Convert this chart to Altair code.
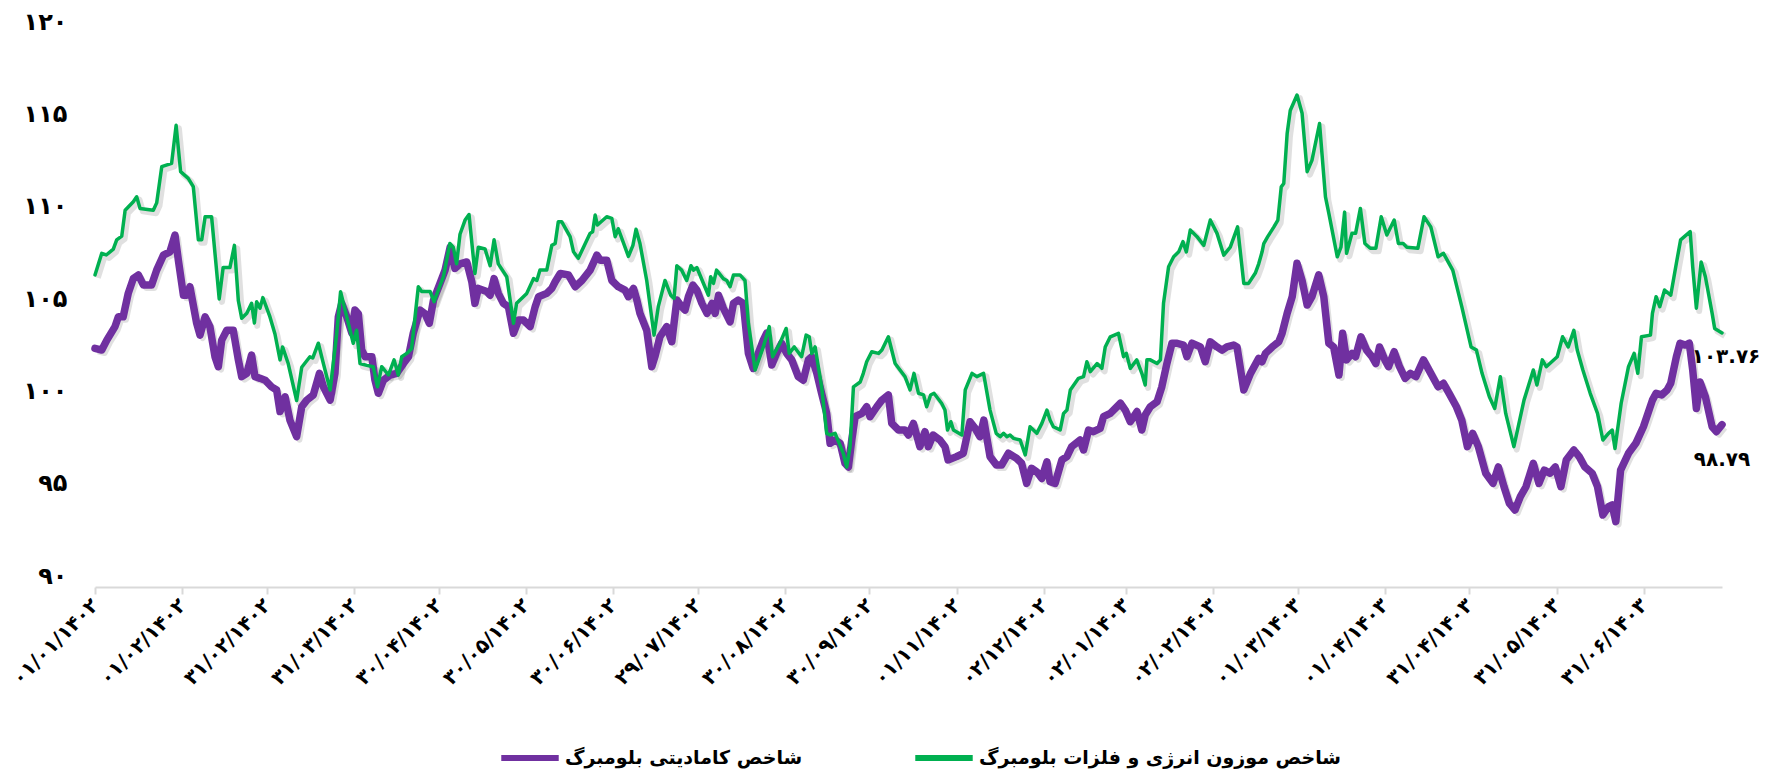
import json
import altair as alt
import pandas as pd

# ---------------- data ----------------
START = pd.Timestamp("2023-03-21")  # 01/01/1402

series_names = ["شاخص کامادیتی بلومبرگ", "شاخص موزون انرژی و فلزات بلومبرگ"]
series_colors = ["#7030A0", "#00B050"]
end_labels = ["۹۸.۷۹", "۱۰۳.۷۶"]

tick_dates = ["2023-03-21", "2023-04-21", "2023-05-21", "2023-06-21", "2023-07-21",
              "2023-08-21", "2023-09-21", "2023-10-21", "2023-11-21", "2023-12-21",
              "2024-01-21", "2024-02-21", "2024-03-21", "2024-04-21", "2024-05-21",
              "2024-06-21", "2024-07-21", "2024-08-21", "2024-09-21"]
tick_labels = ["۰۱/۰۱/۱۴۰۲", "۰۱/۰۲/۱۴۰۲", "۳۱/۰۲/۱۴۰۲", "۳۱/۰۳/۱۴۰۲", "۳۰/۰۴/۱۴۰۲",
               "۳۰/۰۵/۱۴۰۲", "۳۰/۰۶/۱۴۰۲", "۲۹/۰۷/۱۴۰۲", "۳۰/۰۸/۱۴۰۲", "۳۰/۰۹/۱۴۰۲",
               "۰۱/۱۱/۱۴۰۲", "۰۲/۱۲/۱۴۰۲", "۰۲/۰۱/۱۴۰۳", "۰۲/۰۲/۱۴۰۳", "۰۱/۰۳/۱۴۰۳",
               "۰۱/۰۴/۱۴۰۳", "۳۱/۰۴/۱۴۰۳", "۳۱/۰۵/۱۴۰۳", "۳۱/۰۶/۱۴۰۳"]
y_ticks = [90, 95, 100, 105, 110, 115, 120]
y_tick_labels = ["۹۰", "۹۵", "۱۰۰", "۱۰۵", "۱۱۰", "۱۱۵", "۱۲۰"]

# days since 01/01/1402 and index values, Bloomberg Commodity Index (purple)
commodity_days = [0, 2.4, 4.2, 7.1, 8.3, 10, 11.8, 13.6, 15.4, 17.2, 20.1, 21.9, 24.3, 26.6, 28.4, 29.6,
    31.4, 32.6, 33.7, 36.1, 37.3, 39.1, 40.8, 42.6, 43.8, 45, 46.8, 49.1, 50.9, 52.1, 53.9, 55.6,
    56.8, 58.6, 60.4, 62.7, 64.5, 65.7, 67.5, 69.2, 71.6, 73.4, 75.2, 77.5, 79.7, 81.1, 83.5, 85.2,
    86.4, 87.6, 89.4, 91.2, 92.3, 93.5, 94.7, 95.9, 98.3, 99.4, 100.6, 102.4, 104.8, 107.1, 109.5,
    111.3, 113, 115.4, 117.2, 118.7, 120.2, 122.5, 124.3, 126.1, 127.8, 129.6, 132, 133.8, 134.9,
    136.1, 139.1, 140.3, 141.7, 143.2, 145, 146.8, 148.6, 150.4, 152.1, 154.5, 156.3, 157.5, 160.4,
    162.2, 163.4, 165.2, 168.1, 170.5, 172.9, 175.8, 178.2, 179.4, 181.7, 183.5, 185.8, 188.2,
    189.4, 191.2, 192.4, 193.5, 195.9, 197.7, 198.8, 200.6, 203, 204.8, 206.6, 208.3, 209.5, 210.7,
    212.3, 213.7, 215.5, 217.3, 219.1, 220.2, 221.4, 223.1, 225.5, 226.7, 228.4, 230.2, 232, 233.7,
    235.5, 237.3, 238.5, 240.3, 242, 243.8, 245.6, 247.4, 249.7, 251.5, 253.3, 254.5, 256.3, 258,
    259.8, 261, 262.8, 264.6, 266.3, 267.5, 268.7, 269.9, 272.3, 274, 275.2, 277.6, 279.4, 281.7,
    282.9, 285.3, 287.6, 288.8, 290.6, 292.9, 294.7, 295.9, 297.6, 300, 301.8, 302.9, 305.9, 308.3,
    310.7, 312.5, 314.2, 315.6, 317.8, 320.1, 321.9, 324.3, 327.2, 329, 330.8, 332.5, 334.4, 336.2,
    338, 339.1, 340.9, 343.3, 345.1, 346.8, 349.8, 351, 352.8, 354.5, 356.9, 358.1, 360.5, 364.1,
    365.8, 367.6, 370, 371.7, 372.9, 374.7, 377.1, 378.8, 380.6, 382.4, 384.2, 386.5, 387.7, 389.5,
    392.5, 394.2, 396, 398.4, 400.2, 401.9, 404.3, 405.5, 407.9, 410.3, 413.2, 414.4, 415.6, 418,
    420.3, 421.5, 423.3, 425.1, 426.8, 428.6, 430.4, 432.1, 434.5, 436.3, 438.1, 439.8, 441.7, 443,
    444.4, 446.3, 447.6, 449.5, 451.5, 453.4, 454.8, 456.1, 458, 459.3, 461.3, 463.2, 465.2, 467.1,
    469, 471.7, 474.3, 476.9, 478.8, 480.8, 483.4, 485.3, 487.3, 489.2, 491.2, 493.8, 496.4, 498.3,
    500.3, 502.2, 504.2, 506.1, 508.1, 510.7, 512.7, 514.6, 516.6, 518.5, 520.5, 522.4, 525.1, 527,
    529, 531.6, 533.5, 535.4, 537.4, 538.7, 540, 541.7, 544.5, 547.1, 549.8, 553, 554.3, 556.3,
    558.2, 559.5, 561.5, 562.8, 564.7, 566.1, 567.3, 568.6, 569.9, 571.8, 574.2, 575.7, 577.7]
commodity_values = [102.92, 102.83, 103.37, 104.1, 104.63, 104.63, 105.9, 106.7, 106.9, 106.35, 106.35,
    107.16, 107.97, 108.15, 109.06, 107.7, 105.8, 105.8, 106.26, 104.28, 103.64, 104.63, 104.1,
    102.47, 101.93, 103.37, 103.9, 103.9, 102.3, 101.39, 101.57, 102.56, 101.39, 101.3, 101.2,
    100.84, 100.67, 99.5, 100.3, 99.04, 98.14, 99.76, 100.12, 100.4, 101.57, 100.84, 100.12, 101.57,
    104.63, 105.36, 104.63, 103.74, 105.0, 104.8, 102.83, 102.47, 102.47, 101.2, 100.49, 101.2,
    101.48, 101.57, 102.1, 102.47, 103.74, 105.0, 104.8, 104.28, 105.54, 106.44, 107.16, 108.4,
    107.25, 107.5, 107.6, 106.53, 105.36, 106.17, 106.0, 105.8, 106.7, 105.9, 105.36, 105.18,
    103.74, 104.46, 104.46, 104.1, 105.18, 105.72, 105.9, 106.17, 106.53, 106.98, 106.9, 106.26,
    106.6, 107.16, 107.97, 107.7, 107.7, 106.6, 106.26, 106.08, 105.72, 106.17, 105.54, 104.82,
    103.9, 101.93, 102.47, 103.55, 104.1, 103.28, 105.54, 105.18, 105.0, 105.72, 106.35, 106.08,
    105.36, 104.82, 105.36, 104.82, 105.8, 105.1, 104.36, 105.36, 105.54, 105.36, 102.65, 101.84,
    102.65, 103.37, 103.74, 102.02, 102.65, 103.2, 102.65, 102.3, 101.39, 101.2, 102.3, 102.47,
    101.57, 100.49, 99.4, 97.78, 97.96, 97.78, 96.7, 96.5, 97.96, 99.22, 99.4, 99.76, 99.22, 99.76,
    100.12, 100.4, 98.86, 98.5, 98.5, 98.23, 98.86, 97.6, 98.41, 97.6, 98.23, 97.96, 97.6, 96.88,
    97.06, 97.24, 98.95, 98.59, 98.14, 99.04, 97.06, 96.6, 96.6, 97.24, 96.97, 96.7, 95.61, 96.43,
    96.24, 95.88, 96.78, 95.7, 95.61, 96.88, 97.06, 97.6, 97.96, 97.42, 98.5, 98.41, 98.59, 99.22,
    99.4, 99.95, 99.58, 98.95, 99.5, 98.5, 99.31, 99.76, 100.03, 100.84, 102.1, 103.2, 103.2,
    103.1, 102.47, 103.2, 103.0, 102.2, 103.28, 103.0, 102.83, 103.0, 103.1, 103.0, 100.67, 101.57,
    102.38, 102.2, 102.65, 103.0, 103.28, 103.74, 104.82, 105.72, 107.53, 106.6, 105.27, 105.72,
    106.9, 105.72, 103.2, 103.0, 101.48, 103.74, 102.3, 102.65, 102.47, 103.55, 102.83, 102.47,
    102.1, 103.0, 102.3, 101.93, 102.74, 101.93, 101.3, 101.57, 101.39, 102.3, 101.57, 100.84,
    101.03, 100.49, 99.76, 99.04, 97.6, 98.32, 97.6, 96.16, 95.61, 96.5, 95.43, 94.53, 94.17, 94.89,
    95.43, 96.7, 95.61, 96.33, 96.16, 96.5, 95.43, 96.88, 97.42, 97.06, 96.5, 96.16, 95.43, 93.9,
    94.35, 94.44, 93.54, 96.33, 97.24, 97.78, 98.68, 100.12, 100.49, 100.4, 100.67, 101.03, 102.47,
    103.2, 103.1, 103.2, 101.75, 99.67, 101.1, 100.3, 98.68, 98.41, 98.79]

# Bloomberg energy & metals weighted index (green)
energy_days = [0, 2.4, 4, 6.5, 7.7, 9.5, 10.7, 13.6, 14.8, 16, 20.7, 21.9, 23.7, 27.2, 28.8, 30.4,
    33.1, 34.9, 36.7, 37.9, 39.1, 41.4, 44.1, 45.5, 47.9, 49.5, 50.9, 52.1, 53.9, 55.6, 56.6, 57.4,
    58.6, 59.6, 62.1, 63.9, 65.7, 66.6, 68.6, 71.6, 73.4, 76.3, 77.3, 79.3, 81.1, 83.5, 85.8, 87.2,
    89.4, 91.7, 92.9, 94.1, 96.5, 98.8, 100.3, 101.8, 104.2, 106.2, 107.7, 108.9, 110.7, 112.4,
    114.8, 116, 119, 120.4, 121.9, 123.7, 126, 127.2, 128.4, 129.6, 131.4, 132.8, 134.9, 136.1,
    138.5, 140.3, 141.7, 143.2, 146.2, 148.6, 149.7, 153.3, 155.7, 156.9, 158, 160.4, 162.2, 163.4,
    164.5, 165.7, 168.7, 169.9, 171.6, 175.8, 176.7, 177.6, 178.4, 181.7, 183.5, 184.7, 185.8,
    189.4, 191, 192.1, 193.5, 195.9, 198.5, 200, 202.4, 204.4, 205.6, 206.6, 208.3, 210.1, 211.6,
    212.5, 213.7, 217.8, 218.6, 219.6, 220.7, 223.1, 224.3, 225.5, 226.7, 229, 230.8, 232, 234.4,
    237.3, 239.4, 240.6, 243.2, 245.4, 246.5, 248.3, 250.9, 252.5, 253.6, 254.5, 255.7, 258, 259.8,
    261, 262.8, 265.7, 266.9, 268.1, 269.3, 271.7, 272.8, 274, 275.8, 278.2, 279.4, 281.7, 284.1,
    287.6, 289.4, 290.8, 292.4, 294.2, 295.3, 296.7, 297.9, 300.6, 301.8, 302.7, 303.9, 304.8,
    307.8, 309, 311.4, 313.1, 315.5, 317.8, 320, 321.4, 322.6, 323.8, 324.9, 326.1, 328.5, 330.3,
    332, 334.4, 336.2, 338, 339.1, 340.3, 342.7, 343.9, 345.1, 346.3, 349.2, 351, 352.2, 353.4,
    355.8, 357.5, 358.7, 360.5, 363.4, 365.2, 366.2, 367.6, 369.9, 371.7, 372.9, 373.5, 374.7,
    377.1, 378.3, 379.4, 381.2, 383, 384.8, 386.3, 387.5, 388.9, 391.3, 393.7, 396, 398.4, 400.8,
    403.1, 405.7, 407.9, 409.6, 412, 413.2, 414.4, 415, 416.4, 418.6, 420, 421.2, 422.1, 423.3,
    424.4, 426.8, 428.6, 430.4, 432.1, 434.8, 436.9, 438.1, 441.1, 442.4, 443.7, 444.4, 446.3,
    447.6, 449.3, 450.9, 452.8, 454.8, 456.7, 458.7, 461.3, 462.8, 464.5, 465.8, 469.7, 471.9,
    474.3, 476.9, 478.8, 482.1, 485.3, 488.6, 490.5, 492.5, 495.1, 497, 499, 500.9, 503.8, 507.4,
    510.7, 512, 513.9, 515.3, 519.2, 521.1, 523.1, 525.1, 526.3, 528.3, 530.9, 533.5, 535.4, 537.4,
    538.7, 539.7, 541.9, 544.5, 546.5, 547.8, 549.1, 552.3, 553, 554.3, 555.6, 557.3, 559.5, 561.5,
    563, 566.4, 567.3, 568.6, 570.3, 571.8, 574.2, 575.1, 577.7]
energy_values = [106.9, 108.07, 107.98, 108.3, 108.8, 109.0, 110.4, 110.86, 111.13, 110.5, 110.4, 110.8,
    112.76, 112.94, 115.0, 112.49, 112.13, 111.68, 108.8, 108.8, 110.05, 110.05, 105.6, 107.3,
    107.3, 108.5, 105.5, 104.55, 104.82, 105.36, 104.3, 105.45, 105.1, 105.67, 104.64, 103.7,
    102.3, 103.0, 102.1, 100.1, 101.9, 102.47, 102.4, 103.2, 102.1, 100.67, 103.7, 105.99, 104.63,
    103.2, 103.9, 102.1, 102.0, 101.93, 100.84, 101.93, 101.48, 102.3, 101.48, 102.47, 102.65,
    102.9, 106.26, 106.0, 106.0, 105.45, 106.08, 106.8, 108.6, 108.4, 107.5, 109.1, 109.87, 110.17,
    106.98, 108.4, 108.3, 107.4, 108.8, 107.5, 106.8, 104.28, 105.36, 105.9, 106.7, 106.6, 107.16,
    107.16, 108.5, 108.6, 109.78, 109.78, 108.97, 108.15, 107.8, 109.15, 109.24, 110.14, 109.6,
    110.05, 109.96, 108.97, 109.4, 107.9, 108.5, 109.37, 108.6, 106.6, 103.64, 105.18, 106.6,
    105.8, 105.63, 107.4, 107.16, 106.6, 107.4, 107.16, 107.3, 105.8, 106.8, 106.44, 107.16, 106.7,
    106.6, 106.26, 106.9, 106.9, 106.6, 104.28, 101.75, 103.0, 104.1, 102.47, 103.2, 104.0, 102.65,
    103.0, 102.47, 103.64, 103.55, 102.65, 103.0, 100.84, 98.32, 98.23, 98.32, 97.24, 96.5, 97.6,
    100.84, 101.1, 101.57, 102.2, 102.74, 102.65, 102.83, 103.55, 102.1, 101.39, 100.67, 101.57,
    100.49, 100.4, 99.76, 100.4, 100.49, 99.95, 99.58, 98.5, 98.95, 98.5, 98.23, 100.67, 101.57,
    101.39, 101.57, 99.58, 98.32, 98.14, 98.32, 98.14, 98.23, 98.05, 97.96, 97.15, 98.68, 98.32,
    98.86, 99.58, 99.04, 98.68, 98.5, 99.4, 99.58, 100.67, 101.3, 101.39, 102.2, 101.66, 102.1,
    101.84, 103.0, 103.55, 103.74, 102.47, 102.65, 101.84, 102.3, 101.57, 100.94, 102.3, 102.3,
    102.1, 102.3, 105.36, 107.34, 107.88, 108.15, 108.7, 108.15, 109.33, 108.97, 108.5, 109.87,
    109.15, 107.97, 108.4, 109.5, 106.44, 106.44, 107.0, 107.5, 108.15, 108.6, 108.97, 109.5,
    109.87, 111.67, 111.85, 114.56, 115.8, 116.64, 115.65, 112.49, 113.1, 115.1, 111.13, 110.23,
    107.88, 108.4, 110.3, 108.07, 109.15, 109.15, 110.5, 108.6, 108.34, 108.34, 110.05, 109.06,
    109.87, 108.6, 108.6, 108.4, 108.34, 110.05, 109.5, 107.88, 108.07, 107.16, 105.18, 103.0,
    102.83, 101.57, 100.3, 99.67, 101.39, 99.4, 97.6, 100.12, 101.75, 100.94, 102.3, 101.93,
    102.47, 103.55, 103.0, 103.9, 102.83, 101.75, 100.49, 99.4, 97.96, 98.32, 98.5, 97.5, 99.95,
    101.93, 102.65, 101.57, 103.55, 103.64, 104.82, 105.72, 105.18, 106.08, 105.8, 107.53, 108.8,
    109.24, 107.34, 105.1, 107.6, 106.8, 104.82, 104.0, 103.76]

# ---------------- tables ----------------
df = pd.concat([
    pd.DataFrame({"day": commodity_days, "value": commodity_values, "series": series_names[0]}),
    pd.DataFrame({"day": energy_days, "value": energy_values, "series": series_names[1]}),
], ignore_index=True)

df_end = pd.DataFrame({
    "day": [commodity_days[-1], energy_days[-1]],
    "value": [commodity_values[-1], energy_values[-1]],
    "label": end_labels,
    "series": series_names,
})

tick_days = [int((pd.Timestamp(d) - START).days) for d in tick_dates]
x_max = max(commodity_days[-1], energy_days[-1])

FONT = "DejaVu Sans"

x_label_expr = f"{json.dumps(tick_labels, ensure_ascii=False)}[indexof({json.dumps(tick_days)}, datum.value)]"
y_label_expr = f"{json.dumps(y_tick_labels, ensure_ascii=False)}[indexof({json.dumps(y_ticks)}, datum.value)]"

x_scale = alt.Scale(domain=[0, x_max], nice=False, zero=False)
y_scale = alt.Scale(domain=[90, 120], nice=False, zero=False)

x_axis = alt.Axis(values=tick_days, labelExpr=x_label_expr, labelAngle=-45,
                  labelAlign="right", labelBaseline="middle",
                  labelFont=FONT, labelFontSize=20, labelFontWeight="bold",
                  labelColor="black", labelPadding=8,
                  domainColor="#d9d9d9", domainWidth=2,
                  tickColor="#d9d9d9", tickWidth=2, tickSize=7,
                  grid=False, labelOverlap=False, title=None)
y_axis = alt.Axis(values=y_ticks, labelExpr=y_label_expr, grid=False,
                  domain=False, ticks=False, labelPadding=28, labelOffset=-11,
                  labelFont=FONT, labelFontSize=24, labelFontWeight="bold",
                  labelColor="black", title=None)

color_enc = alt.Color("series:N",
                      scale=alt.Scale(domain=series_names, range=series_colors),
                      legend=alt.Legend(title=None, orient="none", direction="horizontal",
                                        legendX=403, legendY=693,
                                        symbolType="stroke", symbolSize=3300,
                                        symbolStrokeWidth=6,
                                        labelFont=FONT, labelFontSize=19,
                                        labelFontWeight="bold", labelColor="black",
                                        labelOffset=3, columnPadding=100, labelLimit=600))

base = alt.Chart(df)

shadow = base.transform_calculate(
    sd="datum.day + 1", sv="datum.value - 0.16"
).mark_line(color="black", opacity=0.12, strokeJoin="round", strokeWidth=6).encode(
    x=alt.X("sd:Q", scale=x_scale, axis=x_axis),
    y=alt.Y("sv:Q", scale=y_scale, axis=y_axis),
    detail="series:N",
)

purple = base.transform_filter(
    alt.datum.series == series_names[0]
).mark_line(strokeJoin="round", strokeCap="round", strokeWidth=7.5).encode(
    x=alt.X("day:Q", scale=x_scale, axis=x_axis),
    y=alt.Y("value:Q", scale=y_scale, axis=y_axis),
    color=color_enc)

green = base.transform_filter(
    alt.datum.series == series_names[1]
).mark_line(strokeJoin="round", strokeCap="round", strokeWidth=3.5).encode(
    x=alt.X("day:Q", scale=x_scale, axis=x_axis),
    y=alt.Y("value:Q", scale=y_scale, axis=y_axis),
    color=color_enc)

end_base = alt.Chart(df_end)
label_purple = end_base.transform_filter(
    alt.datum.series == series_names[0]
).mark_text(font=FONT, fontSize=20, fontWeight="bold", color="black",
            dx=0, dy=35, align="center").encode(
    x=alt.X("day:Q", scale=x_scale, axis=x_axis),
    y=alt.Y("value:Q", scale=y_scale, axis=y_axis),
    text="label:N")
label_green = end_base.transform_filter(
    alt.datum.series == series_names[1]
).mark_text(font=FONT, fontSize=20, fontWeight="bold", color="black",
            dx=4, dy=24, align="center").encode(
    x=alt.X("day:Q", scale=x_scale, axis=x_axis),
    y=alt.Y("value:Q", scale=y_scale, axis=y_axis),
    text="label:N")

chart = alt.layer(shadow, purple, green, label_purple, label_green).properties(
    width=1627, height=554,
    autosize=alt.AutoSizeParams(type="none"),
    padding={"left": 87, "top": 25, "right": 44, "bottom": 186},
).configure(font=FONT, view=alt.ViewConfig(stroke="transparent", strokeWidth=0))

chart.save("out.html", embed_options={"renderer": "svg", "actions": False})
